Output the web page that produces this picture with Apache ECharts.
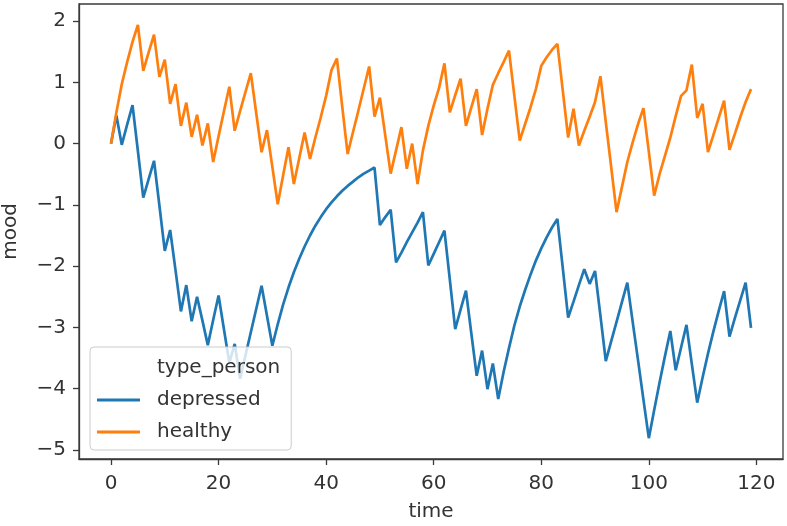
<!DOCTYPE html>
<html>
<head>
<meta charset="utf-8">
<script src="https://cdn.jsdelivr.net/npm/echarts@6.0.0/dist/echarts.min.js"></script>
<style>html,body{margin:0;padding:0;background:#fff}#chart{width:787px;height:526px}</style>
</head>
<body>
<div id="chart"></div>
<script>
// time steps 0..119
var time = [];
for (var i = 0; i < 120; i++) time.push(i);

var depressed = [
  0, 0.46, -0.02, 0.31, 0.63, -0.12, -0.88, -0.58, -0.28, -1.01,
  -1.75, -1.41, -2.07, -2.74, -2.31, -2.90, -2.50, -2.89, -3.29, -2.88,
  -2.48, -3.03, -3.58, -3.27, -3.84, -3.46, -3.08, -2.70, -2.32, -2.81,
  -3.30, -2.95, -2.63, -2.35, -2.10, -1.88, -1.68, -1.50, -1.34, -1.20,
  -1.07, -0.96, -0.86, -0.77, -0.69, -0.62, -0.55, -0.49, -0.44, -0.39,
  -1.33, -1.20, -1.08, -1.94, -1.78, -1.61, -1.45, -1.29, -1.12, -1.99,
  -1.80, -1.61, -1.42, -2.22, -3.03, -2.71, -2.40, -3.10, -3.79, -3.38,
  -4.01, -3.59, -4.17, -3.73, -3.34, -2.97, -2.66, -2.39, -2.14, -1.91,
  -1.71, -1.53, -1.37, -1.23, -2.03, -2.84, -2.58, -2.31, -2.05, -2.29,
  -2.08, -2.81, -3.55, -3.23, -2.91, -2.59, -2.27, -2.91, -3.54, -4.18,
  -4.81, -4.35, -3.90, -3.47, -3.06, -3.70, -3.33, -2.96, -3.60, -4.23,
  -3.82, -3.43, -3.07, -2.73, -2.41, -3.15, -2.85, -2.56, -2.27, -3.01
];

var healthy = [
  0, 0.51, 0.97, 1.33, 1.66, 1.94, 1.19, 1.49, 1.78, 1.09,
  1.37, 0.65, 0.97, 0.29, 0.67, 0.11, 0.47, -0.03, 0.33, -0.30,
  0.12, 0.53, 0.93, 0.21, 0.53, 0.84, 1.15, 0.50, -0.14, 0.22,
  -0.38, -0.99, -0.52, -0.06, -0.66, -0.24, 0.18, -0.25, 0.10, 0.43,
  0.78, 1.20, 1.39, 0.60, -0.17, 0.19, 0.54, 0.90, 1.26, 0.44,
  0.75, 0.13, -0.49, -0.11, 0.27, -0.41, 0.00, -0.66, -0.11, 0.29,
  0.62, 0.91, 1.31, 0.51, 0.79, 1.06, 0.29, 0.59, 0.89, 0.14,
  0.57, 0.96, 1.15, 1.33, 1.52, 0.78, 0.05, 0.32, 0.59, 0.89,
  1.27, 1.41, 1.53, 1.63, 0.87, 0.10, 0.57, -0.03, 0.21, 0.44,
  0.68, 1.10, 0.35, -0.38, -1.12, -0.71, -0.30, 0.02, 0.32, 0.58,
  -0.13, -0.85, -0.50, -0.20, 0.10, 0.45, 0.78, 0.87, 1.29, 0.42,
  0.65, -0.14, 0.14, 0.42, 0.70, -0.10, 0.16, 0.43, 0.68, 0.89
];

var xTicks = [0, 20, 40, 60, 80, 100, 120];
var yTicks = [-5, -4, -3, -2, -1, 0, 1, 2];

function pairs(xs, ys) {
  return xs.map(function (x, i) { return [x, ys[i]]; });
}
function fmt(v) { return String(v).replace('-', '\u2212'); }

var FONT = 'DejaVu Sans';
var FS = 20;
var INK = '#333333';
var FRAME = '#3a3a3a';
var BLUE = '#1f77b4';
var ORANGE = '#ff7f0e';

var chart = echarts.init(document.getElementById('chart'), null, { renderer: 'canvas' });
chart.setOption({
  animation: false,
  backgroundColor: '#ffffff',
  textStyle: { fontFamily: FONT },
  grid: {
    left: 79, right: 4, top: 4, bottom: 67,
    containLabel: false, outerBoundsMode: 'none',
    show: true, borderColor: FRAME, borderWidth: 1.3, backgroundColor: 'transparent'
  },
  legend: {
    orient: 'vertical',
    left: 90, top: 347,
    padding: [10, 11, 7, 7],
    itemWidth: 43, itemHeight: 3, itemGap: 10,
    backgroundColor: 'rgba(255,255,255,0.8)',
    borderColor: '#cccccc', borderWidth: 1, borderRadius: 4,
    selectedMode: false,
    textStyle: { fontFamily: FONT, fontSize: FS, color: INK, lineHeight: 22, padding: [0, 0, 0, 12] },
    data: [
      { name: 'type_person', icon: 'none' },
      { name: 'depressed', icon: 'rect', itemStyle: { color: BLUE } },
      { name: 'healthy', icon: 'rect', itemStyle: { color: ORANGE } }
    ]
  },
  xAxis: {
    type: 'value', min: -5.95, max: 124.95,
    name: 'time', nameLocation: 'middle', nameGap: 43,
    nameTextStyle: { fontFamily: FONT, fontSize: FS, color: INK },
    splitLine: { show: false },
    axisLine: { show: true, onZero: false, lineStyle: { color: FRAME, width: 1.3 } },
    axisTick: { show: true, length: 6, lineStyle: { color: FRAME, width: 1.3 }, customValues: xTicks },
    axisLabel: { fontFamily: FONT, fontSize: FS, color: INK, margin: 15, customValues: xTicks, formatter: fmt }
  },
  yAxis: {
    type: 'value', min: -5.15, max: 2.28,
    name: 'mood', nameLocation: 'middle', nameGap: 58, nameRotate: 90,
    nameTextStyle: { fontFamily: FONT, fontSize: FS, color: INK },
    splitLine: { show: false },
    axisLine: { show: true, onZero: false, lineStyle: { color: FRAME, width: 1.3 } },
    axisTick: { show: true, length: 6, lineStyle: { color: FRAME, width: 1.3 }, customValues: yTicks },
    axisLabel: { fontFamily: FONT, fontSize: FS, color: INK, margin: 13, customValues: yTicks, formatter: fmt }
  },
  series: [
    { name: 'type_person', type: 'line', data: [], symbol: 'none' },
    {
      name: 'depressed', type: 'line', data: pairs(time, depressed),
      symbol: 'none', showSymbol: false,
      lineStyle: { color: BLUE, width: 2.7 }, itemStyle: { color: BLUE }
    },
    {
      name: 'healthy', type: 'line', data: pairs(time, healthy),
      symbol: 'none', showSymbol: false,
      lineStyle: { color: ORANGE, width: 2.7 }, itemStyle: { color: ORANGE }
    }
  ]
});
</script>
</body>
</html>
